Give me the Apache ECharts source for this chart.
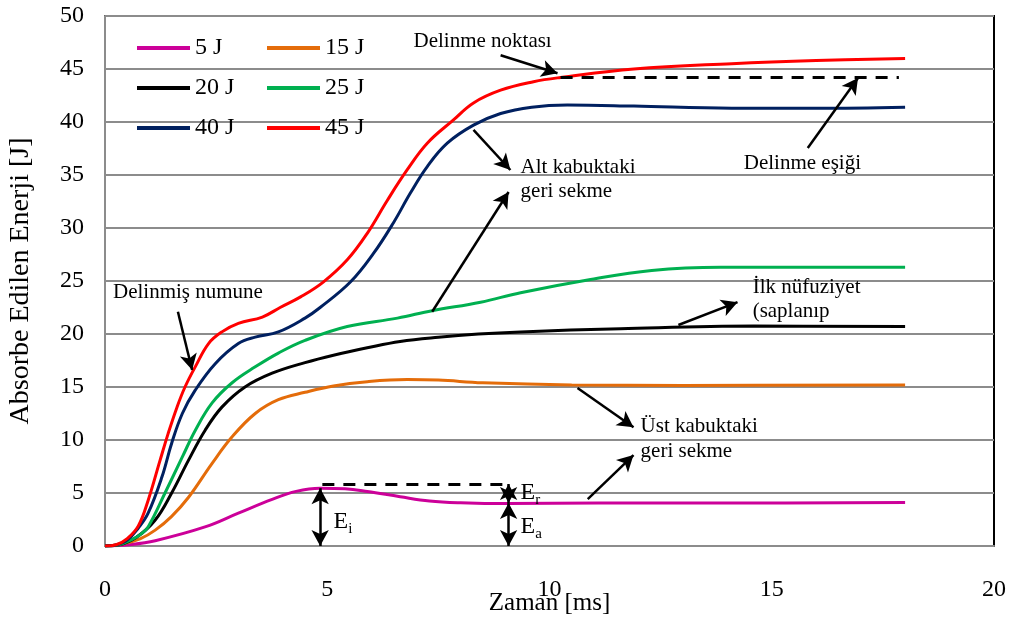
<!DOCTYPE html>
<html>
<head>
<meta charset="utf-8">
<script src="https://cdn.jsdelivr.net/npm/echarts@6/dist/echarts.min.js"></script>
<style>html,body{margin:0;padding:0;background:#fff}#c{width:1014px;height:624px}</style>
</head>
<body>
<div id="c"></div>
<script>
// ---- data ----
var seriesNames = ['5 J', '15 J', '20 J', '25 J', '40 J', '45 J'];
var xTicks = [0, 5, 10, 15, 20];
var yTicks = [0, 5, 10, 15, 20, 25, 30, 35, 40, 45, 50];

var e5 = [[0,0],[0.6,0.15],[1.13,0.5],[2.25,1.8],[3.0,3.1],[3.76,4.4],[4.3,5.15],[4.84,5.45],[5.4,5.4],[5.9,5.15],[6.64,4.65],[7.3,4.25],[8,4.08],[9.05,4.0],[11.1,4.05],[14,4.05],[18,4.1]];
var e15 = [[0,0],[0.4,0.2],[0.8,0.7],[1.13,1.5],[1.5,2.8],[1.88,4.6],[2.41,7.8],[2.86,10.3],[3.38,12.5],[3.9,13.8],[4.5,14.5],[5.14,15.1],[5.9,15.5],[6.8,15.7],[7.5,15.65],[8.5,15.4],[10.5,15.2],[13,15.15],[18,15.2]];
var e20 = [[0,0],[0.3,0.1],[0.7,0.8],[1.13,2.45],[1.5,5],[1.88,8.1],[2.25,10.9],[2.63,13.1],[3.15,15],[3.76,16.3],[4.5,17.3],[5.14,18.0],[5.9,18.7],[6.64,19.3],[7.5,19.7],[8.4,20.0],[9.35,20.2],[11.6,20.5],[14.6,20.75],[18,20.7]];
var e25 = [[0,0],[0.3,0.1],[0.6,0.6],[0.8,1.1],[0.97,1.8],[1.35,5],[1.74,8.4],[2.03,10.9],[2.41,13.5],[2.86,15.4],[3.38,16.9],[3.9,18.2],[4.5,19.4],[5.45,20.7],[6.58,21.5],[7.36,22.2],[8.45,23.0],[9.35,23.9],[10.86,25.1],[12.3,26.0],[13.85,26.3],[16,26.3],[18,26.3]];
var e40 = [[0,0],[0.25,0.1],[0.5,0.55],[0.75,1.7],[0.97,3.1],[1.28,6.5],[1.5,9.7],[1.74,12.5],[2.03,14.7],[2.48,17.2],[3.0,19.1],[3.38,19.7],[3.9,20.2],[4.5,21.5],[4.84,22.5],[5.52,24.9],[6.04,27.6],[6.49,30.5],[6.87,33.3],[7.25,35.8],[7.7,38],[8.29,39.7],[8.9,40.8],[9.6,41.4],[10.4,41.6],[11.9,41.5],[14.1,41.3],[16,41.3],[18,41.4]];
var e45 = [[0,0],[0.25,0.12],[0.5,0.7],[0.75,1.9],[0.97,4.3],[1.24,8.1],[1.42,10.6],[1.62,13.1],[1.8,15],[2.03,16.9],[2.33,19.1],[2.63,20.2],[3.0,21],[3.54,21.6],[3.94,22.5],[4.4,23.5],[4.91,24.9],[5.45,27],[5.9,29.5],[6.35,32.6],[6.8,35.5],[7.25,38],[7.84,40.2],[8.29,41.8],[8.9,43],[9.64,43.8],[10.25,44.2],[11.9,45.0],[14.1,45.5],[16,45.8],[18,46.0]];

// annotation texts [x, y, text]
var noteTexts = [
  [6.94, 47.55, 'Delinme noktası'],
  [14.37, 36.13, 'Delinme eşiği'],
  [9.35, 35.75, 'Alt kabuktaki'],
  [9.35, 33.4, 'geri sekme'],
  [14.57, 24.43, 'İlk nüfuziyet'],
  [14.57, 22.08, '(saplanıp'],
  [12.05, 11.23, 'Üst kabuktaki'],
  [12.05, 8.87, 'geri sekme'],
  [0.18, 23.87, 'Delinmiş numune']
];
// arrows [x1, y1, x2, y2]
var arrows = [
  [8.9, 46.3, 10.18, 44.6],
  [15.81, 37.55, 16.94, 44.15],
  [8.29, 39.25, 9.12, 35.47],
  [7.36, 22.1, 9.08, 33.4],
  [12.9, 20.85, 14.23, 23.0],
  [10.63, 14.9, 11.89, 11.2],
  [10.86, 4.43, 11.89, 8.58],
  [1.64, 22.1, 1.96, 16.6]
];
var doubleArrows = [
  [4.84, 0, 4.84, 5.45],
  [9.08, 4.05, 9.08, 5.85],
  [9.08, 0, 9.08, 4.05]
];
var dashedLines = [
  [10.25, 44.2, 17.86, 44.2],
  [4.89, 5.85, 8.94, 5.85]
];
var energySymbols = [
  [5.14, 2.26, 'i'],
  [9.35, 5.0, 'r'],
  [9.35, 1.8, 'a']
];

// ---- chart ----
var colors = ['#CC0099', '#E46C0A', '#000000', '#00B050', '#002060', '#FF0000'];
var dataSets = [e5, e15, e20, e25, e40, e45];
var FONT = 'Liberation Serif';

var series = seriesNames.map(function (n, i) {
  return {
    name: n, type: 'line', data: dataSets[i], smooth: 0.4, symbol: 'none',
    lineStyle: { color: colors[i], width: 3 }, itemStyle: { color: colors[i] },
    z: 3
  };
});

function seg(a, sym) {
  return [{ coord: [a[0], a[1]], symbol: sym[0] }, { coord: [a[2], a[3]], symbol: sym[1] }];
}
var mlData = [];
arrows.forEach(function (a) { mlData.push(seg(a, ['none', 'arrow'])); });
doubleArrows.forEach(function (a) { mlData.push(seg(a, ['arrow', 'arrow'])); });
var dashData = dashedLines.map(function (a) { return seg(a, ['none', 'none']); });

series.push({
  name: 'notes', type: 'scatter', symbolSize: 0, z: 5,
  itemStyle: { opacity: 1 },
  data: noteTexts.map(function (t) { return { value: [t[0], t[1]], label: { formatter: t[2] } }; }),
  label: { show: true, position: [0, 0], align: 'left', verticalAlign: 'middle', color: '#000', opacity: 1, fontFamily: FONT, fontSize: 21 },
  markLine: {
    silent: true, symbolSize: [13, 16], label: { show: false },
    lineStyle: { color: '#000', width: 2.5, type: 'solid', opacity: 1 },
    data: mlData, animation: false
  }
});
series.push({
  name: 'dash', type: 'scatter', symbolSize: 0, z: 4,
  itemStyle: { opacity: 1 },
  data: energySymbols.map(function (t) { return { value: [t[0], t[1]], label: { formatter: '{e|E}{s|' + t[2] + '}' } }; }),
  label: { show: true, position: [0, 0], align: 'left', verticalAlign: 'middle', color: '#000', fontFamily: FONT,
    rich: { e: { fontSize: 24, fontFamily: FONT, color: '#000' }, s: { fontSize: 15, fontFamily: FONT, color: '#000', padding: [14, 0, 0, 0] } } },
  markLine: {
    silent: true, symbol: 'none', label: { show: false },
    lineStyle: { color: '#000', width: 3, type: [12, 9], opacity: 1 },
    data: dashData, animation: false
  }
});

var legendCommon = { orient: 'vertical', icon: 'rect', itemWidth: 53, itemHeight: 4, itemGap: 16,
  textStyle: { fontFamily: FONT, fontSize: 24, color: '#000', lineHeight: 24 } };

var chart = echarts.init(document.getElementById('c'), null, { renderer: 'canvas' });
chart.setOption({
  animation: false,
  backgroundColor: '#fff',
  textStyle: { fontFamily: FONT },
  grid: { left: 105, right: 20, top: 16, bottom: 78, show: true, borderColor: '#000', borderWidth: 2, backgroundColor: 'transparent',
    containLabel: false, outerBoundsMode: 'none' },
  legend: [
    Object.assign({ data: ['5 J', '20 J', '40 J'], left: 132, top: 31 }, legendCommon),
    Object.assign({ data: ['15 J', '25 J', '45 J'], left: 262, top: 31 }, legendCommon)
  ],
  xAxis: {
    type: 'value', min: xTicks[0], max: xTicks[xTicks.length - 1], interval: 5,
    name: 'Zaman [ms]', nameLocation: 'middle', nameGap: 45, nameMoveOverlap: false,
    nameTextStyle: { fontFamily: FONT, fontSize: 25, color: '#000' },
    axisLine: { show: true, lineStyle: { color: '#8c8c8c', width: 2 } },
    axisTick: { show: false },
    splitLine: { show: false },
    axisLabel: { fontFamily: FONT, fontSize: 24, color: '#000', margin: 32 }
  },
  yAxis: {
    type: 'value', min: yTicks[0], max: yTicks[yTicks.length - 1], interval: 5,
    name: 'Absorbe Edilen Enerji [J]', nameLocation: 'middle', nameGap: 70, nameMoveOverlap: false,
    nameTextStyle: { fontFamily: FONT, fontSize: 28, color: '#000' },
    axisLine: { show: true, lineStyle: { color: '#8c8c8c', width: 2 } },
    axisTick: { show: false },
    splitLine: { show: true, lineStyle: { color: '#8c8c8c', width: 2 } },
    axisLabel: { fontFamily: FONT, fontSize: 24, color: '#000', margin: 21 }
  },
  series: series
});
</script>
</body>
</html>
